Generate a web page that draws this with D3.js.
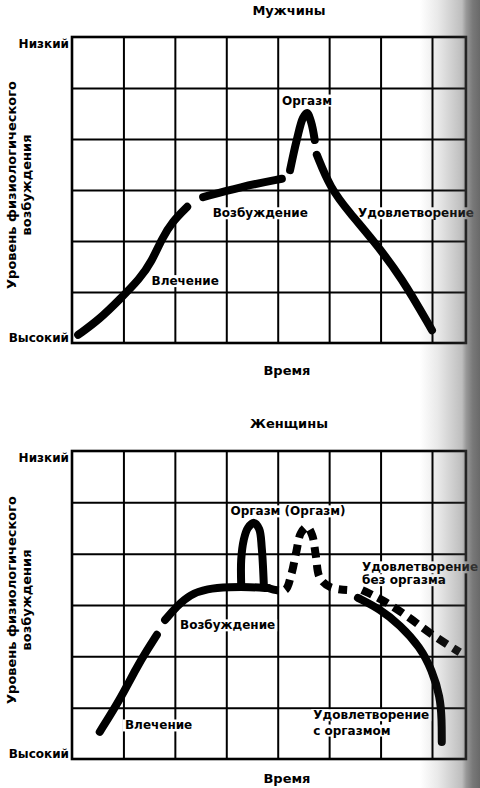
<!DOCTYPE html>
<html>
<head>
<meta charset="utf-8">
<script src="https://cdn.jsdelivr.net/npm/d3@7"></script>
<style>
  html, body { margin: 0; padding: 0; background: #fff; }
  svg { display: block; font-family: "DejaVu Sans", "Liberation Sans", sans-serif; }
</style>
</head>
<body>
<svg id="chart" width="480" height="788"></svg>
<script>
// ---- grid of the two panels ----
const timeTicks = [0, 1, 2, 3, 4, 5, 6, 7];
const timeEnd = 7.66;
const levelTicks = [0, 1, 2, 3, 4, 5, 6];
const levelLabelTicks = [0, 6];
const levelLabels = ["Высокий", "Низкий"];

// ---- men: [time, level] for each phase ----
const menDesire = [[0.12, 0.16], [0.54, 0.47], [0.93, 0.86], [1.32, 1.26], [1.55, 1.6], [1.75, 2.05], [1.95, 2.38], [2.24, 2.67]];
const menExcitement = [[2.55, 2.86], [3.27, 3.06], [4.08, 3.22]];
const menOrgasm = [[4.24, 3.39], [4.37, 3.98], [4.49, 4.41], [4.57, 4.51], [4.65, 4.33], [4.72, 3.98]];
const menResolution = [[4.76, 3.69], [5.02, 3.04], [5.4, 2.55], [5.85, 2.02], [6.4, 1.3], [7.0, 0.25]];

// ---- women ----
const womenDesire = [[0.54, 0.53], [0.93, 1.15], [1.26, 1.79], [1.46, 2.12], [1.65, 2.42]];
const womenExcitement = [[1.81, 2.71], [2.04, 2.98], [2.29, 3.2], [2.62, 3.32], [3.07, 3.35], [3.46, 3.35], [3.81, 3.33]];
const womenOrgasm = [[3.29, 3.39], [3.29, 3.88], [3.34, 4.27], [3.42, 4.50], [3.54, 4.60], [3.64, 4.48], [3.69, 4.11], [3.73, 3.39]];
const womenSecondOrgasm = [[3.81, 3.33], [4.14, 3.29], [4.26, 3.58], [4.36, 4.03], [4.45, 4.40], [4.57, 4.52], [4.67, 4.36], [4.74, 3.97], [4.82, 3.53], [5.02, 3.35], [5.35, 3.29]];
const womenResolutionNoOrgasm = [[5.64, 3.29], [6.05, 3.10], [6.57, 2.75], [7.02, 2.40], [7.54, 2.08]];
const womenResolutionOrgasm = [[5.56, 3.14], [5.99, 2.92], [6.38, 2.61], [6.77, 2.18], [7.0, 1.73], [7.16, 1.21], [7.19, 0.76], [7.19, 0.33]];

const svg = d3.select("#chart");
const x = d3.scaleLinear().domain([0, 7]).range([72, 432]);

function panel(top, bottom) {
  const y = d3.scaleLinear().domain([0, 6]).range([bottom, top]);
  const g = svg.append("g");

  // vertical grid lines
  g.append("g")
    .attr("transform", `translate(0,${bottom})`)
    .call(d3.axisBottom(x).tickValues(timeTicks.slice(1)).tickSize(-(bottom - top)).tickFormat(""))
    .call(s => s.select(".domain").remove())
    .call(s => s.selectAll("line").attr("stroke", "#000").attr("stroke-width", 2));

  // horizontal grid lines
  g.append("g")
    .attr("transform", `translate(${x(0)},0)`)
    .call(d3.axisLeft(y).tickValues(levelTicks.slice(1, -1)).tickSize(-(x(timeEnd) - x(0))).tickFormat(""))
    .call(s => s.select(".domain").remove())
    .call(s => s.selectAll("line").attr("stroke", "#000").attr("stroke-width", 2));

  // frame
  g.append("rect")
    .attr("x", x(0)).attr("y", y(6))
    .attr("width", x(timeEnd) - x(0)).attr("height", y(0) - y(6))
    .attr("fill", "none").attr("stroke", "#000").attr("stroke-width", 2.6);

  // level names at the ends of the vertical scale
  g.append("g")
    .attr("transform", `translate(${x(0)},0)`)
    .call(d3.axisLeft(y).tickValues(levelLabelTicks).tickSize(0).tickPadding(3)
      .tickFormat((d, i) => levelLabels[i]))
    .call(s => s.select(".domain").remove())
    .call(s => s.selectAll("text")
      .attr("font-family", "DejaVu Sans").attr("font-size", 12).attr("font-weight", "bold")
      .attr("fill", "#000")
      .attr("dy", d => d === 6 ? "0.85em" : "-0.15em"));

  return { g, y };
}

function note(g, text, px, py, anchor = "middle", weight = "bold") {
  const t = g.append("text")
    .attr("x", px).attr("y", py).attr("dy", "0.36em")
    .attr("text-anchor", anchor)
    .attr("font-size", 12).attr("font-weight", weight)
    .attr("fill", "#000").text(text);
  const b = t.node().getBBox();
  g.insert("rect", () => t.node())
    .attr("x", b.x - 2).attr("y", b.y + 1)
    .attr("width", b.width + 4).attr("height", b.height - 2)
    .attr("fill", "#fff");
}

// smooth = B-spline for the gently bending phases, Catmull-Rom for the peaks
function curve(g, y, pts, opts = {}) {
  const factory = opts.peak ? d3.curveCatmullRom.alpha(0.5) : d3.curveBasis;
  const line = d3.line().x(d => x(d[0])).y(d => y(d[1])).curve(factory);
  g.append("path")
    .attr("d", line(pts))
    .attr("fill", "none").attr("stroke", "#000")
    .attr("stroke-width", 8)
    .attr("stroke-linecap", opts.dashed ? "butt" : "round")
    .attr("stroke-linejoin", "round")
    .attr("stroke-dasharray", opts.dashed ? "11,7" : null);
}

function axisTitles(top, bottom, title, titleY, timeY) {
  const midX = (x(0) + x(timeEnd)) / 2;
  svg.append("text").attr("x", midX + 20).attr("y", titleY)
    .attr("text-anchor", "middle").attr("font-size", 13).attr("font-weight", "bold").text(title);
  svg.append("text").attr("x", midX + 18).attr("y", timeY)
    .attr("text-anchor", "middle").attr("font-size", 13).attr("font-weight", "bold").text("Время");
  const midY = (top + bottom) / 2 - 5;
  svg.append("text").attr("transform", `translate(16,${midY}) rotate(-90)`)
    .attr("text-anchor", "middle").attr("font-size", 13).attr("font-weight", "bold")
    .text("Уровень физиологического");
  svg.append("text").attr("transform", `translate(31,${midY}) rotate(-90)`)
    .attr("text-anchor", "middle").attr("font-size", 13).attr("font-weight", "bold")
    .text("возбуждения");
}

// ---- Мужчины ----
const men = panel(37, 343);
axisTitles(37, 343, "Мужчины", 15, 375);
note(men.g, "Оргазм", x(4.57), men.y(4.76));
note(men.g, "Возбуждение", x(3.66), men.y(2.55));
note(men.g, "Удовлетворение", x(5.56), men.y(2.55), "start");
note(men.g, "Влечение", x(2.2), men.y(1.22));
curve(men.g, men.y, menDesire);
curve(men.g, men.y, menExcitement);
curve(men.g, men.y, menOrgasm, { peak: true });
curve(men.g, men.y, menResolution);

// ---- Женщины ----
const women = panel(451, 759);
axisTitles(451, 759, "Женщины", 428, 783);
note(women.g, "Оргазм (Оргазм)", x(4.2), women.y(4.83));
note(women.g, "Удовлетворение", x(5.64), women.y(3.74), "start");
note(women.g, "без оргазма", x(5.64), women.y(3.49), "start");
note(women.g, "Возбуждение", x(2.1), women.y(2.61), "start");
note(women.g, "Влечение", x(1.03), women.y(0.66), "start");
note(women.g, "Удовлетворение", x(4.69), women.y(0.86), "start");
note(women.g, "с оргазмом", x(4.69), women.y(0.56), "start");
curve(women.g, women.y, womenDesire);
curve(women.g, women.y, womenExcitement);
curve(women.g, women.y, womenOrgasm, { peak: true });
curve(women.g, women.y, womenSecondOrgasm, { peak: true, dashed: true });
curve(women.g, women.y, womenResolutionNoOrgasm, { dashed: true });
curve(women.g, women.y, womenResolutionOrgasm);

// grey shading along the right margin of the page
const grad = svg.append("defs").append("linearGradient")
  .attr("id", "edge").attr("gradientUnits", "userSpaceOnUse")
  .attr("x1", 420).attr("x2", 480).attr("y1", 0).attr("y2", 0);
[[0, 0], [0.3, 0.12], [0.7, 0.35], [0.77, 0.55], [0.88, 0.72], [1, 0.8]].forEach(([o, a]) =>
  grad.append("stop").attr("offset", o).attr("stop-color", "#444").attr("stop-opacity", a));
svg.append("rect").attr("x", 420).attr("y", 0).attr("width", 60).attr("height", 788)
  .attr("fill", "url(#edge)");
</script>
</body>
</html>
